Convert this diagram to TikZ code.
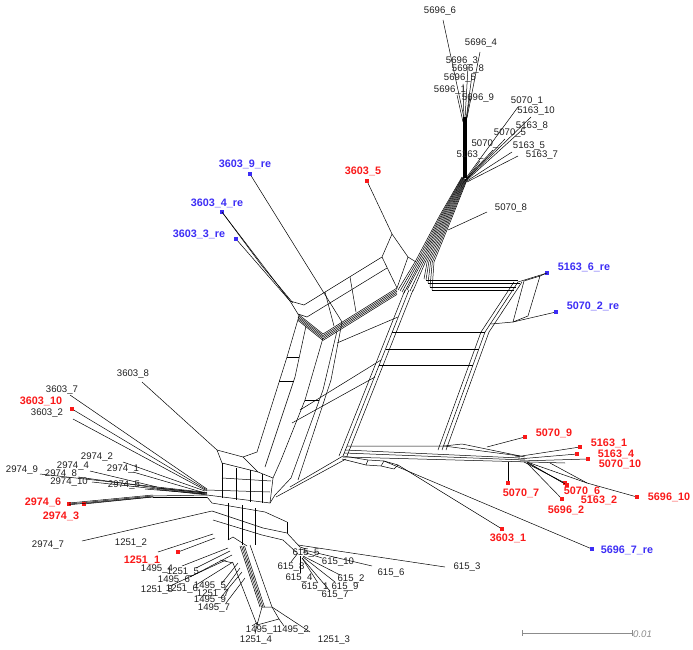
\documentclass[tikz,border=0pt]{standalone}
\usepackage{fontspec}
\setmainfont{Liberation Sans}
\definecolor{leafred}{RGB}{250,25,25}
\definecolor{leafblue}{RGB}{60,45,245}
\definecolor{scalegrey}{RGB}{140,140,140}
\tikzset{
  net/.style={line width=0.5pt, black},
  sq/.style={rectangle, inner sep=0pt, minimum size=4.6pt},
  rsq/.style={sq, fill=leafred},
  bsq/.style={sq, fill=leafblue},
  lab/.style={inner sep=0pt, font=\fontsize{9.6}{10}\selectfont, text=black!88},
  rlab/.style={inner sep=0pt, font=\fontsize{10.8}{11}\selectfont\bfseries, text=leafred},
  blab/.style={inner sep=0pt, font=\fontsize{10.8}{11}\selectfont\bfseries, text=leafblue},
}
% black taxon: name, text, label centre, free end, attach point
\newcommand\leafb[5]{\node[lab] (l#1) at (#3) {#2};
  \coordinate (e#1) at (#4); \coordinate (a#1) at (#5); \draw[net] (e#1) -- (a#1);}
% coloured taxon with square marker: name, text, label centre, square, attach point
\newcommand\leafr[5]{\node[rlab] (l#1) at (#3) {#2};
  \coordinate (a#1) at (#5); \draw[net] (#4) -- (a#1); \node[rsq] (s#1) at (#4) {};}
\newcommand\leafbl[5]{\node[blab] (l#1) at (#3) {#2};
  \coordinate (a#1) at (#5); \draw[net] (#4) -- (a#1); \node[bsq] (s#1) at (#4) {};}
\begin{document}
\begin{tikzpicture}[x=1pt,y=-1pt]
\useasboundingbox (0,0) rectangle (693,650);

% ---------- 5696 fan and trunk
\leafb{5696x6}{5696\_6}{440,11}{443,20}{464,118}
\leafb{5696x4}{5696\_4}{481,43}{480,52}{467,118}
\leafb{5696x3}{5696\_3}{462,61}{468,67}{465,119}
\leafb{5696x8}{5696\_8}{468,69}{472,75}{466,120}
\leafb{5696x5}{5696\_5}{460,78}{463,84}{464,120}
\leafb{5696x1}{5696\_1}{450,90}{457,95}{463,122}
\leafb{5696x9}{5696\_9}{478,98}{470,96}{466,122}
\foreach \o in {-1.6,-0.8,0,0.8,1.6} \draw[net] (465+\o,117)--(465+\o,178);

% ---------- 5070 / 5163 fan
\leafb{5070x1}{5070\_1}{527,101}{518,107}{466,178}
\leafb{5163x10}{5163\_10}{536,111}{531,117}{467,179}
\leafb{5163x8}{5163\_8}{532,126}{522,130}{467,180}
\leafb{5070x5}{5070\_5}{510,133}{505,139}{466,180}
\leafb{5070x3}{5070\_}{485,144}{493,150}{465,180}
\leafb{5163x5}{5163\_5}{529,146}{512,152}{467,181}
\leafb{5163x7}{5163\_7}{542,155}{518,156}{467,182}
\leafb{5163x9}{5163\_}{470,155}{480,161}{465,181}
\leafb{5070x8}{5070\_8}{511,208}{487,212}{448,230}

% ---------- main bundle down from the trunk
\foreach \i/\ex/\ey in {0/398/290,1/400/291,2/402/292,3/404/293,4/407/290,5/410/291,6/413/291,7/424/279,8/426/280,9/428/283,10/430/287,11/432/290}{
  \pgfmathsetmacro\t{\i/11}
  \draw[net] (462+5*\t,177+3*\t) -- (440+13*\t,215) -- (415+19*\t,262) -- (\ex,\ey);
}

% ---------- right block
\foreach \o in {-4,0,4} \draw[net] (409+\o,290)--(343+\o,456);
\foreach \o in {-4,0,4} \draw[net] (518+\o,282)--(485+\o,332)--(442+\o,450);
\draw[net] (426,280)--(518,280);
\draw[net] (428,283)--(520,283);
\draw[net] (430,287)--(516,287);
\draw[net] (432,290)--(514,290);
\draw[net] (392,332)--(485,332);
\draw[net] (386,349)--(479,349);
\draw[net] (379,365)--(473,365);
\draw[net] (347,446)--(444,446)--(520,456);
\draw[net] (345,450)--(520,458);
\draw[net] (344,453)--(525,460);
\draw[net] (343,457)--(530,462)--(565,463);
\draw[net] (444,446)--(462,444)--(525,457);
% re-sequenced taxa on the right edge
\draw[net] (524,281)--(540,276)--(528,316)--(513,322)--(491,324);
\draw[net] (524,281)--(513,322);
\leafbl{5163x6re}{5163\_6\_re}{584,267}{547,273}{518,282}
\draw[net] (547,273)--(540,276);
\leafbl{5070x2re}{5070\_2\_re}{593,306}{556,312}{513,322}

% ---------- lower right cluster
\leafr{5070x9}{5070\_9}{554,433}{525,437}{487,447}
\leafr{5163x1}{5163\_1}{609,443}{580,447}{515,457}
\leafr{5163x4}{5163\_4}{616,454}{577,454}{518,459}
\leafr{5070x10}{5070\_10}{620,464}{588,459}{520,461}
\leafr{5070x7}{5070\_7}{521,493}{508,483}{508,462}
\draw[net] (527,462)--(565,484);
\leafr{5070x6}{5070\_6}{582,491}{565,483}{524,462}
\leafr{5163x2}{5163\_2}{599,500}{567,485}{528,463}
\leafr{5696x2}{5696\_2}{566,510}{562,499}{527,463}
\coordinate (k5696x10) at (587,483);
\draw[net] (527,462)--(k5696x10);
\draw[net] (550,463)--(k5696x10);
\leafr{5696x10}{5696\_10}{669,497}{637,497}{587,483}

% ---------- lower corner and long taxa
\draw[net] (343,456)--(368,460)--(384,461)--(398,465);
\draw[net] (342,459)--(366,465)--(381,466)--(394,469);
\draw[net] (368,460)--(366,465);
\draw[net] (384,461)--(381,466);
\draw[net] (398,465)--(394,469);
\leafr{3603x1}{3603\_1}{508,538}{502,529}{398,465}
\leafbl{5696x7re}{5696\_7\_re}{627,550}{592,549}{384,461}
\draw[net] (343,456)--(290,487);
\draw[net] (346,459)--(276,497);

% ---------- upper left block (3603 arm)
\coordinate (ba) at (392,234);
\coordinate (bb) at (382,257);
\coordinate (bc) at (408,257);
\coordinate (bd) at (397,288);
\draw[net] (bb)--(ba)--(bc)--(bd)--(bb);
\draw[net] (bc)--(416,262);
\leafr{3603x5}{3603\_5}{363,171}{367,181}{392,234}
\draw[net] (290,301)--(304,305)--(bb);
\draw[net] (290,301)--(298,314);
\draw[net] (298,314)--(307,317)--(387,268);
\foreach \k in {0,...,4} \draw[net] (298,314+1.6*\k)--(323,334+1.6*\k)--(397,288+1.6*\k);
\draw[net] (325,292)--(334,326);
\draw[net] (350,277)--(356,312);
\leafbl{3603x9re}{3603\_9\_re}{245,164}{250,174}{342,322}
\leafbl{3603x4re}{3603\_4\_re}{217,203}{222,212}{290,301}
\draw[net] (222,212)--(262,266)--(293,303);
\leafbl{3603x3re}{3603\_3\_re}{199,234}{236,239}{290,301}

% ---------- left column
\draw[net] (299,316)--(287,357)--(257,452);
\draw[net] (306,326)--(295,377)--(265,467);
\draw[net] (323,338)--(305,400)--(281,460);
\draw[net] (337,331)--(323,390)--(291,478);
\draw[net] (342,322)--(331,380)--(298,480);
\draw[net] (287,357)--(299,357);
\draw[net] (279,381)--(294,381);
\draw[net] (305,400)--(319,400);
\draw[net] (398,317)--(337,343);
\draw[net] (381,360)--(300,410);
\draw[net] (375,377)--(292,423);

% ---------- left hub
\leafb{3603x8}{3603\_8}{133,374}{142,382}{217,450}
\draw[net] (217,450)--(243,457)--(258,472)--(273,478)--(270,503);
\draw[net] (257,452)--(243,457);
\draw[net] (217,450)--(222,463)--(250,470)--(258,472);
\draw[net] (222,463)--(222,498);
\draw[net] (236,468)--(236,500);
\draw[net] (250,470)--(250,502);
\draw[net] (262,474)--(262,503);
\draw[net] (222,478)--(271,481);
\draw[net] (207,490)--(270,492);
\draw[net] (207,495)--(270,503);
\draw[net] (281,460)--(273,478);
\draw[net] (291,478)--(275,495)--(270,503);

% ---------- 3603 / 2974 fan
\leafb{3603x7}{3603\_7}{62,390}{70,395}{207,489}
\leafr{3603x10}{3603\_10}{41,401}{72,409}{207,490}
\leafb{3603x2}{3603\_2}{47,413}{73,419}{207,491}
\leafb{2974x2}{2974\_2}{97,457}{123,462}{205,491}
\leafb{2974x1}{2974\_1}{123,469}{133,472}{205,493}
\coordinate (f2974) at (157,488);
\leafb{2974x9}{2974\_9}{22,470}{40,474}{157,487}
\leafb{2974x4}{2974\_4}{73,466}{90,471}{157,487}
\leafb{2974x8}{2974\_8}{61,474}{78,477}{157,488}
\leafb{2974x10}{2974\_10}{69,482}{92,482}{157,489}
\leafb{2974x5}{2974\_5}{124,485}{145,489}{205,494}
\foreach \d in {0,0.8,1.6,2.4} \draw[net] (157,487+\d)--(207,492.5+\d);
\draw[net] (f2974)--(207,493);
\leafr{2974x6}{2974\_6}{43,502}{69,504}{153,496}
\leafr{2974x3}{2974\_3}{61,516}{84,504}{153,497}
\draw[net] (69,503)--(153,495);
\draw[net] (69,504.8)--(153,496.8);
\draw[net] (153,496)--(207,495);
\draw[net] (153,497)--(207,497);
\leafb{2974x7}{2974\_7}{48,545}{82,541}{212,511}

% ---------- lower hub
\draw[net] (207,497)--(212,503)--(265,512)--(287,522);
\draw[net] (212,511)--(263,528)--(287,533)--(300,547);
\draw[net] (213,520)--(262,535)--(283,540)--(296,552);
\draw[net] (228,503)--(228,540);
\draw[net] (242,505)--(242,545);
\draw[net] (255,508)--(255,545);
\draw[net] (287,522)--(287,533);
\leafb{1251x2}{1251\_2}{131,543}{158,552}{213,534}
\leafr{1251x1}{1251\_1}{142,560}{178,552}{215,538}

% ---------- 1495 / 1251 arm
\foreach \o in {0,1.5,3,4.5} \draw[net] (240+\o,546)--(260+\o,607);
\draw[net] (228,540)--(233,537)--(247,546);
\draw[net] (220,560)--(233,563)--(257,625);
\draw[net] (250,545)--(272,607);
\draw[net] (257,625)--(262,607)--(272,607)--(279,619)--(257,625);
\leafb{1495x4}{1495\_4}{157,569}{182,566}{228,548}
\leafb{1251x5}{1251\_5}{183,572}{196,568}{230,551}
\leafb{1495x6}{1495\_6}{174,580}{190,577}{232,555}
\leafb{1251x8}{1251\_8}{157,590}{170,586}{226,560}
\leafb{1251x6}{1251\_6}{182,589}{196,585}{233,562}
\leafb{1495x5}{1495\_5}{210,586}{222,583}{238,563}
\leafb{1251x7}{1251\_7}{213,594}{224,590}{240,568}
\leafb{1495x9}{1495\_9}{210,600}{222,596}{242,572}
\leafb{1495x7}{1495\_7}{214,608}{226,603}{245,578}
\leafb{1495x1}{1495\_1}{262,630}{252,626}{258,622}
\leafb{1495x2}{1495\_2}{293,630}{284,626}{279,619}
\leafb{1251x4}{1251\_4}{256,640}{255,634}{257,625}
\leafb{1251x3}{1251\_3}{334,640}{310,632}{272,607}

% ---------- 615 arm
\leafb{615x5}{615\_5}{306,553}{306,549}{300,547}
\leafb{615x10}{615\_10}{338,562}{322,558}{303,552}
\leafb{615x6}{615\_6}{391,573}{372,566}{300,549}
\leafb{615x3}{615\_3}{467,567}{445,567}{298,545}
\leafb{615x8}{615\_8}{291,567}{291,562}{298,553}
\leafb{615x4}{615\_4}{299,578}{300,573}{300,556}
\leafb{615x2}{615\_2}{351,579}{340,575}{303,556}
\leafb{615x1}{615\_1}{315,587}{318,583}{302,558}
\leafb{615x9}{615\_9}{345,587}{335,582}{303,557}
\leafb{615x7}{615\_7}{335,595}{330,591}{302,558}

% ---------- scale bar
\coordinate (sb0) at (522,633);
\coordinate (sb1) at (632,633);
\draw[scalegrey, line width=0.6pt] (sb0)--(sb1);
\draw[scalegrey, line width=0.6pt] (522,630)--(522,636);
\draw[scalegrey, line width=0.6pt] (632,630)--(632,636);
\node[inner sep=0pt, font=\fontsize{9.6}{10}\selectfont\itshape, text=scalegrey, anchor=west] (sbl) at (633,634) {0.01};
\end{tikzpicture}
\end{document}
